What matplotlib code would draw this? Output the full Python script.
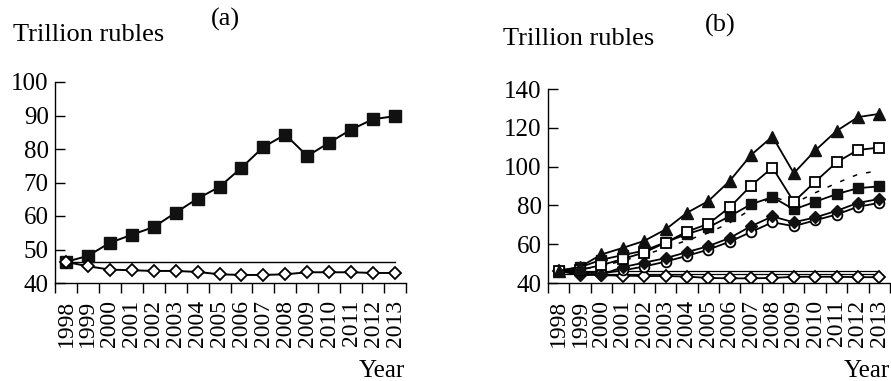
import numpy as np
import matplotlib
matplotlib.use('Agg')
from matplotlib import pyplot as plt
from matplotlib.ticker import FixedLocator, NullFormatter

plt.rcParams['font.family'] = 'serif'
plt.rcParams['font.serif'] = ['Liberation Serif', 'Times New Roman',
                              'Noto Serif', 'DejaVu Serif']

years = [str(y) for y in range(1998, 2014)]

# Panel (a) and shared series
gdp_actual = [46.3, 48.1, 52.0, 54.4, 56.7, 61.0, 65.2, 68.7, 74.4, 80.6,
              84.3, 77.9, 81.9, 85.8, 88.9, 89.8]
gdp_base = [46.3, 45.0, 44.0, 43.8, 43.6, 43.6, 43.3, 42.6, 42.4, 42.4,
            42.6, 43.2, 43.2, 43.2, 43.0, 43.0]
level_1998 = 46.3

# Panel (b) extra scenarios
scen_tri = [46.3, 48.3, 54.7, 58.1, 61.7, 67.6, 76.2, 82.2, 92.6, 106.0,
            115.5, 96.6, 108.3, 118.4, 125.5, 127.2]
scen_open_sq = [46.3, 46.8, 49.2, 52.4, 55.7, 60.8, 66.5, 70.5, 79.0, 90.2,
                99.5, 81.9, 92.2, 102.2, 108.6, 109.8]
scen_dashed = [46.3, 47.0, 48.6, 51.5, 54.5, 58.0, 62.0, 65.8, 71.0, 78.0,
               84.5, 81.0, 86.5, 91.5, 96.0, 98.0]
scen_diamond = [46.3, 44.0, 44.3, 48.2, 50.5, 52.8, 55.9, 59.0, 63.2, 69.3,
                74.3, 71.3, 73.8, 77.2, 81.3, 83.3]
scen_circle = [46.3, 45.5, 45.0, 46.5, 48.5, 51.0, 54.0, 57.2, 61.3, 66.3,
               71.3, 69.3, 72.3, 75.3, 79.3, 81.3]
level_low = 44.8

W, H = 891, 381
fig = plt.figure(figsize=(W / 100, H / 100), dpi=100)


def px_axes(x0, y0, x1, y1):
    # pixel box (left, top, right, bottom) -> figure axes
    return fig.add_axes([x0 / W, 1 - y1 / H, (x1 - x0) / W, (y1 - y0) / H])


def style_axes(ax, ymin, ymax, ystep):
    x = np.arange(len(years))
    ax.set_xlim(-0.5, len(years) - 0.5)
    ax.set_ylim(ymin, ymax)
    for s in ['top', 'right']:
        ax.spines[s].set_visible(False)
    for s in ['left', 'bottom']:
        ax.spines[s].set_linewidth(1.0)
    ax.set_xticks(x)
    ax.set_xticklabels(years, rotation=90, fontsize=17)
    # tick marks sit between the years, labels under the points
    ax.xaxis.set_minor_locator(FixedLocator(np.arange(-0.5, len(years), 1.0)))
    ax.xaxis.set_minor_formatter(NullFormatter())
    ax.tick_params(axis='x', which='major', length=0, pad=12)
    ax.tick_params(axis='x', which='minor', length=7, width=1.0, direction='out')
    ax.set_yticks(np.arange(ymin, ymax + 1, ystep))
    ax.tick_params(axis='y', length=7, width=1.0, direction='in',
                   labelsize=18, pad=4.5)
    return x


# ---- Panel (a)
ax1 = px_axes(55, 82, 406, 283)
x = style_axes(ax1, 40, 100, 10)
ax1.plot([x[0], x[-1]], [level_1998, level_1998], color='black', lw=1.0)
ax1.plot(x, gdp_actual, color='black', lw=1.4, marker='s', ms=9,
         mfc='#111111', mec='#111111')
ax1.plot(x, gdp_base, color='black', lw=1.4, marker='D', ms=6.5,
         mfc='white', mec='black', mew=1.3)

# ---- Panel (b)
ax2 = px_axes(548, 89, 890, 283)
x = style_axes(ax2, 40, 140, 20)
ax2.plot([x[0], x[-1]], [level_1998, level_1998], color='black', lw=0.9)
ax2.plot([x[0], x[-1]], [level_low, level_low], color='black', lw=0.9)
ax2.plot(x, gdp_base, color='black', lw=1.3, marker='D', ms=6.5,
         mfc='white', mec='black', mew=1.3)
ax2.plot(x, scen_circle, color='black', lw=1.3, marker='o', ms=7,
         mfc='white', mec='black', mew=1.3)
ax2.plot(x, scen_diamond, color='black', lw=1.3, marker='D', ms=6.5,
         mfc='#111111', mec='#111111')
ax2.plot(x, scen_dashed, color='black', lw=1.1, ls=(0, (3, 6)))
ax2.plot(x, gdp_actual, color='black', lw=1.3, marker='s', ms=7.5,
         mfc='#111111', mec='#111111')
ax2.plot(x, scen_open_sq, color='black', lw=1.3, marker='s', ms=7.5,
         mfc='white', mec='black', mew=1.3)
ax2.plot(x, scen_tri, color='black', lw=1.3, marker='^', ms=9,
         mfc='#111111', mec='#111111')


# ---- Texts
def ftext(px, py, s, **kw):
    fig.text(px / W, 1 - py / H, s, va='baseline', **kw)


ftext(13, 41, 'Trillion rubles', fontsize=19, ha='left')
ftext(225, 26, '(a)', fontsize=19, ha='center')
ftext(405, 377, 'Year', fontsize=18, ha='right')
ftext(503, 45, 'Trillion rubles', fontsize=19, ha='left')
ftext(720, 32, '(b)', fontsize=19, ha='center')
ftext(890, 377, 'Year', fontsize=18, ha='right')

fig.savefig('out.png', dpi=100)
